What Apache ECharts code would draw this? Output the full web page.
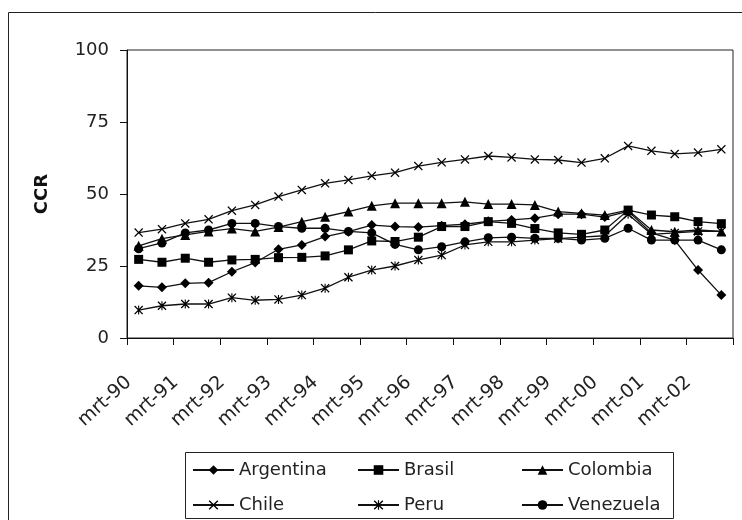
<!DOCTYPE html>
<html>
<head>
<meta charset="utf-8">
<script src="https://cdn.jsdelivr.net/npm/echarts@6/dist/echarts.min.js"></script>
<style>
html,body{margin:0;padding:0;background:#fff;}
#c{width:742px;height:520px;}
</style>
</head>
<body>
<div id="c"></div>
<script>
const categories = [
  'mrt-90','sep-90','mrt-91','sep-91','mrt-92','sep-92','mrt-93','sep-93','mrt-94','sep-94',
  'mrt-95','sep-95','mrt-96','sep-96','mrt-97','sep-97','mrt-98','sep-98','mrt-99','sep-99',
  'mrt-00','sep-00','mrt-01','sep-01','mrt-02','sep-02'
];
const argentina = [18.1,17.6,19.0,19.2,23.0,26.2,30.8,32.3,35.2,36.9,39.2,38.7,38.5,39.0,39.5,40.5,41.0,41.6,43.0,43.0,42.0,44.0,36.5,34.0,23.6,14.9];
const brasil    = [27.3,26.3,27.7,26.3,27.1,27.3,27.9,28.0,28.5,30.6,33.7,33.5,35.0,38.7,38.7,40.4,39.8,38.0,36.5,36.0,37.5,44.4,42.7,42.1,40.4,39.7];
const colombia  = [32.0,34.5,35.8,37.0,38.0,37.0,38.5,40.4,42.1,43.9,45.9,46.8,46.8,46.8,47.3,46.5,46.5,46.2,43.9,43.3,42.7,44.4,37.5,36.9,37.5,37.0];
const chile     = [36.6,37.8,39.8,41.2,44.2,46.2,49.1,51.4,53.7,54.9,56.3,57.4,59.7,61.0,62.0,63.2,62.7,62.0,61.8,60.9,62.4,66.7,65.0,63.9,64.4,65.5];
const peru      = [9.7,11.2,11.8,11.8,14.0,13.1,13.4,14.9,17.3,21.1,23.6,25.0,27.1,28.8,32.3,33.4,33.4,34.0,34.5,35.0,35.5,43.0,36.0,36.5,37.0,37.0];
const venezuela = [31.0,33.0,36.5,37.5,39.8,39.8,38.7,38.1,38.1,37.0,36.5,32.5,30.6,31.7,33.4,34.8,35.0,34.6,34.6,34.0,34.6,38.1,34.0,34.0,34.0,30.6];
const seriesNames = ['Argentina','Brasil','Colombia','Chile','Peru','Venezuela'];

const X_PATH = 'path://M0,1 L1,0 L5,4 L9,0 L10,1 L6,5 L10,9 L9,10 L5,6 L1,10 L0,9 L4,5 Z';
const STAR_PATH = 'path://M0,1 L1,0 L5,4 L9,0 L10,1 L6,5 L10,9 L9,10 L5,6 L1,10 L0,9 L4,5 Z M4.4,0 L5.6,0 L5.6,10 L4.4,10 Z';

const FONT = 'DejaVu Sans';
function mk(name, data, symbol, size) {
  return {
    name: name, type: 'line', data: data,
    symbol: symbol, symbolSize: size,
    lineStyle: {color: '#111', width: 1.3},
    itemStyle: {color: '#000', borderWidth: 0},
    emphasis: {disabled: true},
    z: 3
  };
}
const chart = echarts.init(document.getElementById('c'), null, {renderer: 'canvas'});
const legendText = {fontFamily: FONT, fontSize: 18, color: '#222'};
const legendBase = {orient: 'vertical', top: 461, itemWidth: 41, itemHeight: 12, itemGap: 17, textStyle: legendText, selectedMode: false, padding: 0};
chart.setOption({
  animation: false,
  backgroundColor: '#fff',
  textStyle: {fontFamily: FONT},
  grid: {left: 127, right: 9, top: 50, bottom: 182, show: true, borderColor: '#222', borderWidth: 1, containLabel: false},
  xAxis: {
    type: 'category', data: categories, boundaryGap: true,
    axisLine: {lineStyle: {color: '#111', width: 1}},
    axisTick: {show: true, interval: 1, length: 7, lineStyle: {color: '#111'}},
    axisLabel: {interval: 1, rotate: 42, margin: 33, padding: [0, 13, 0, 0], fontFamily: FONT, fontSize: 19, color: '#222'},
    splitLine: {show: false}
  },
  yAxis: {
    type: 'value', min: 0, max: 100, interval: 25,
    name: 'CCR', nameLocation: 'middle', nameRotate: 90, nameGap: 76,
    nameTextStyle: {fontFamily: FONT, fontSize: 18, fontWeight: 'bold', color: '#111'},
    axisLine: {show: true, lineStyle: {color: '#111', width: 1}},
    axisTick: {show: true, length: 7, lineStyle: {color: '#111'}},
    axisLabel: {margin: 18, fontFamily: FONT, fontSize: 18, color: '#222'},
    splitLine: {show: false}
  },
  legend: [
    Object.assign({}, legendBase, {left: 192, data: ['Argentina','Chile']}),
    Object.assign({}, legendBase, {left: 357, data: ['Brasil','Peru']}),
    Object.assign({}, legendBase, {left: 521, data: ['Colombia','Venezuela']})
  ],
  graphic: [
    {type: 'rect', shape: {x: 8.5, y: 12.5, width: 740, height: 520}, style: {fill: 'none', stroke: '#222', lineWidth: 1}, silent: true},
    {type: 'rect', shape: {x: 185.5, y: 452.5, width: 488, height: 66}, style: {fill: 'none', stroke: '#222', lineWidth: 1}, silent: true}
  ],
  series: [
    mk(seriesNames[0], argentina, 'diamond', 10),
    mk(seriesNames[1], brasil, 'rect', 9),
    mk(seriesNames[2], colombia, 'triangle', 10),
    mk(seriesNames[3], chile, X_PATH, 9),
    mk(seriesNames[4], peru, STAR_PATH, 9),
    mk(seriesNames[5], venezuela, 'circle', 9)
  ]
});
</script>
</body>
</html>
